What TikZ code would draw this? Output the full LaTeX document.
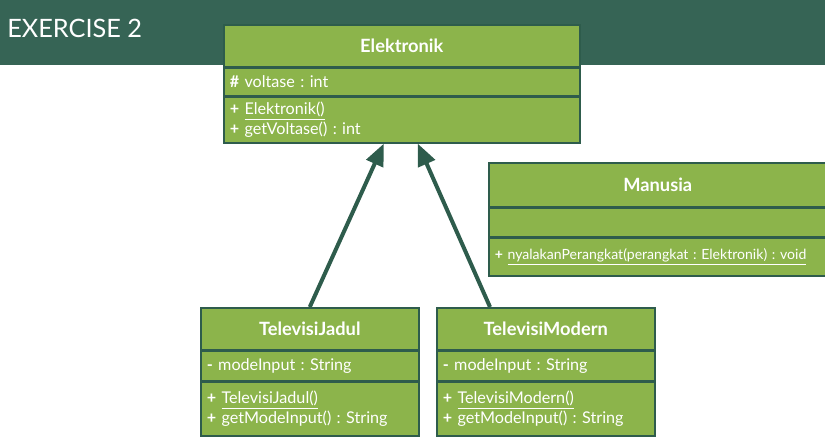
\documentclass[tikz,border=0pt]{standalone}
\usepackage{fontspec}
\setmainfont{Lato}
\frenchspacing
\usepackage{tikz}
\usetikzlibrary{positioning, arrows.meta}
\definecolor{bandgreen}{RGB}{54,100,85}
\definecolor{boxgreen}{RGB}{140,180,75}
\definecolor{linegreen}{RGB}{46,92,76}
\tikzset{
    >={Triangle[width=4.5mm, length=5.5mm]},    % filled heads for the inheritance arrows
    classhead/.style={draw=linegreen, fill=boxgreen, line width=1.1pt, text=white,
        font=\bfseries\fontsize{13}{15}\selectfont, anchor=north west},   % name part of a class
    classpart/.style={draw=linegreen, fill=boxgreen, line width=1.1pt, text=white,
        font=\fontsize{11.5}{14.5}\selectfont, align=left, inner xsep=1.5mm, inner ysep=0pt},  % attributes and methods
    inherit/.style={->, draw=linegreen, line width=1mm},    % generalisation arrow
}

\begin{document}
\begin{tikzpicture}[x=0.25mm, y=-0.25mm]

\useasboundingbox (0,0) rectangle (825,441);
\fill[bandgreen] (0,0) rectangle (825,65);
\node[text=white, font=\fontsize{18}{22}\selectfont, anchor=west, inner sep=0pt] (title) at (7,28) {EXERCISE 2};

\node[classhead, minimum width=89mm, minimum height=10.5mm] (elk) at (223,24) {Elektronik};
\node[classpart, below=0pt of elk, text width=86mm, minimum height=6.75mm] (elka) {\textbf{\#} voltase : int};
\node[classpart, below=0pt of elka, text width=86mm, minimum height=11.5mm] (elkm) {\textbf{+} \underline{Elektronik()}\\\textbf{+} getVoltase() : int};

\node[classhead, minimum width=84.5mm, minimum height=11mm] (man) at (488,162) {Manusia};
\node[classpart, below=0pt of man, text width=81.5mm, minimum height=7mm] (mana) {};
\node[classpart, below=0pt of mana, text width=81.5mm, minimum height=9.5mm, font=\fontsize{10}{12}\selectfont] (manm) {\textbf{+} \underline{nyalakanPerangkat(perangkat : Elektronik) : void}};

\node[classhead, minimum width=54.5mm, minimum height=10.5mm] (tvj) at (200,307) {TelevisiJadul};
\node[classpart, below=0pt of tvj, text width=51.5mm, minimum height=7.25mm] (tvja) {\textbf{-} modeInput : String};
\node[classpart, below=0pt of tvja, text width=51.5mm, minimum height=13.5mm] (tvjm) {\textbf{+} \underline{TelevisiJadul()}\\\textbf{+} getModeInput() : String};

\node[classhead, minimum width=54.5mm, minimum height=10.5mm] (tvm) at (436,307) {TelevisiModern};
\node[classpart, below=0pt of tvm, text width=51.5mm, minimum height=7.25mm] (tvma) {\textbf{-} modeInput : String};
\node[classpart, below=0pt of tvma, text width=51.5mm, minimum height=13.5mm] (tvmm) {\textbf{+} \underline{TelevisiModern()}\\\textbf{+} getModeInput() : String};

\draw[inherit] (tvj.north) -- ([xshift=-4.5mm]elkm.south);
\draw[inherit] ([xshift=13.5mm]tvm.north west) -- ([xshift=4mm]elkm.south);

\end{tikzpicture}
\end{document}
